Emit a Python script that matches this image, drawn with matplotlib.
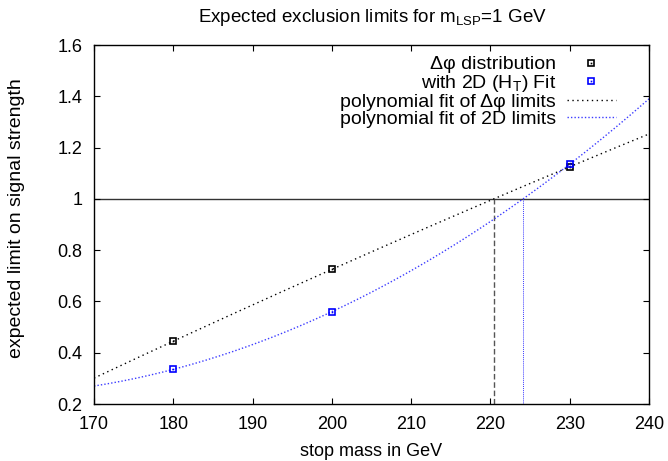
import numpy as np
import matplotlib
matplotlib.use("Agg")
import matplotlib.pyplot as plt
from matplotlib.legend_handler import HandlerTuple

plt.rcParams['font.family'] = ['Liberation Sans', 'DejaVu Sans']
plt.rcParams['mathtext.fontset'] = 'custom'
plt.rcParams['mathtext.rm'] = 'Liberation Sans'
plt.rcParams['mathtext.it'] = 'Liberation Sans'

# data
stop_mass = [180, 200, 230]
dphi_limits = [0.445, 0.725, 1.125]
twod_limits = [0.335, 0.56, 1.135]
x_ticks = [170, 180, 190, 200, 210, 220, 230, 240]
y_ticks = [0.2, 0.4, 0.6, 0.8, 1.0, 1.2, 1.4, 1.6]
y_tick_labels = ["0.2", "0.4", "0.6", "0.8", "1", "1.2", "1.4", "1.6"]

W, H = 668, 461
fig = plt.figure(figsize=(W/100, H/100), dpi=100)
ax = fig.add_axes([94/W, 1-404/H, (649-94)/W, (404-45)/H])

xs = np.linspace(170, 240, 400)
p_dphi = np.polyfit(stop_mass, dphi_limits, 2)
p_2d = np.polyfit(stop_mass, twod_limits, 2)

def crossing(p):
    r = np.roots(p - np.array([0, 0, 1.0]))
    r = r[np.isreal(r)].real
    return r[(r > 170) & (r < 240)][0]

blue = '#3c3cff'
ax.axhline(1.0, color='#333333', lw=1.0, zorder=1)
c1 = crossing(p_dphi)
c2 = crossing(p_2d)
ax.plot([c1, c1], [0.2, 1.0], color='#555555', lw=1.0, ls=(0, (4, 2)), zorder=1)
ax.plot([c2, c2], [0.2, 1.0], color=blue, lw=0.7, ls=(0, (1, 1)), zorder=1)

sq1, = ax.plot(stop_mass, dphi_limits, ls='none', marker='s', ms=5, mfc='none',
               mec='black', mew=1.2, zorder=3)
d1, = ax.plot(stop_mass, dphi_limits, ls='none', marker='s', ms=1.2, mfc='black',
              mec='black', mew=0, zorder=3)
sq2, = ax.plot(stop_mass, twod_limits, ls='none', marker='s', ms=5, mfc='none',
               mec='#0000ff', mew=1.2, zorder=3)
d2, = ax.plot(stop_mass, twod_limits, ls='none', marker='s', ms=1.2, mfc='#0000ff',
              mec='#0000ff', mew=0, zorder=3)
l1, = ax.plot(xs, np.polyval(p_dphi, xs), color='black', lw=1.0, ls=(0, (1, 2.5)),
              zorder=2)
l2, = ax.plot(xs, np.polyval(p_2d, xs), color=blue, lw=1.0, ls=(0, (1, 1.5)),
              zorder=2)

ax.set_xlim(170, 240)
ax.set_ylim(0.2, 1.6)
ax.set_xticks(x_ticks)
ax.set_yticks(y_ticks)
ax.set_yticklabels(y_tick_labels)
ax.tick_params(direction='in', top=True, right=True, length=4.5, width=0.8,
               labelsize=13, pad=8.5, colors='black')
for s in ax.spines.values():
    s.set_linewidth(1.0)

fig.text(371/W, 1-456/H, 'stop mass in GeV', ha='center', va='baseline', fontsize=13)
fig.text(17/W, 1-218/H, 'expected limit on signal strength', ha='center', va='center',
         rotation=90, fontsize=14)
fig.text(372.5/W, 1-22/H, 'Expected exclusion limits for m$_\\mathrm{LSP}$=1 GeV',
         ha='center', va='baseline', fontsize=13.5)

leg = ax.legend([(sq1, d1), (sq2, d2), l1, l2],
                ['Δφ distribution', 'with 2D (H$_\\mathrm{T}$) Fit',
                 'polynomial fit of Δφ limits', 'polynomial fit of 2D limits'],
                handler_map={tuple: HandlerTuple(ndivide=1, pad=0)},
                loc='upper right', bbox_to_anchor=(626/W, 1 - 46/H),
                bbox_transform=fig.transFigure, frameon=False, markerfirst=False,
                fontsize=14, borderpad=0, labelspacing=-0.03, handlelength=2.55,
                handletextpad=0.55, numpoints=1)

fig.savefig('out.png', dpi=100)
